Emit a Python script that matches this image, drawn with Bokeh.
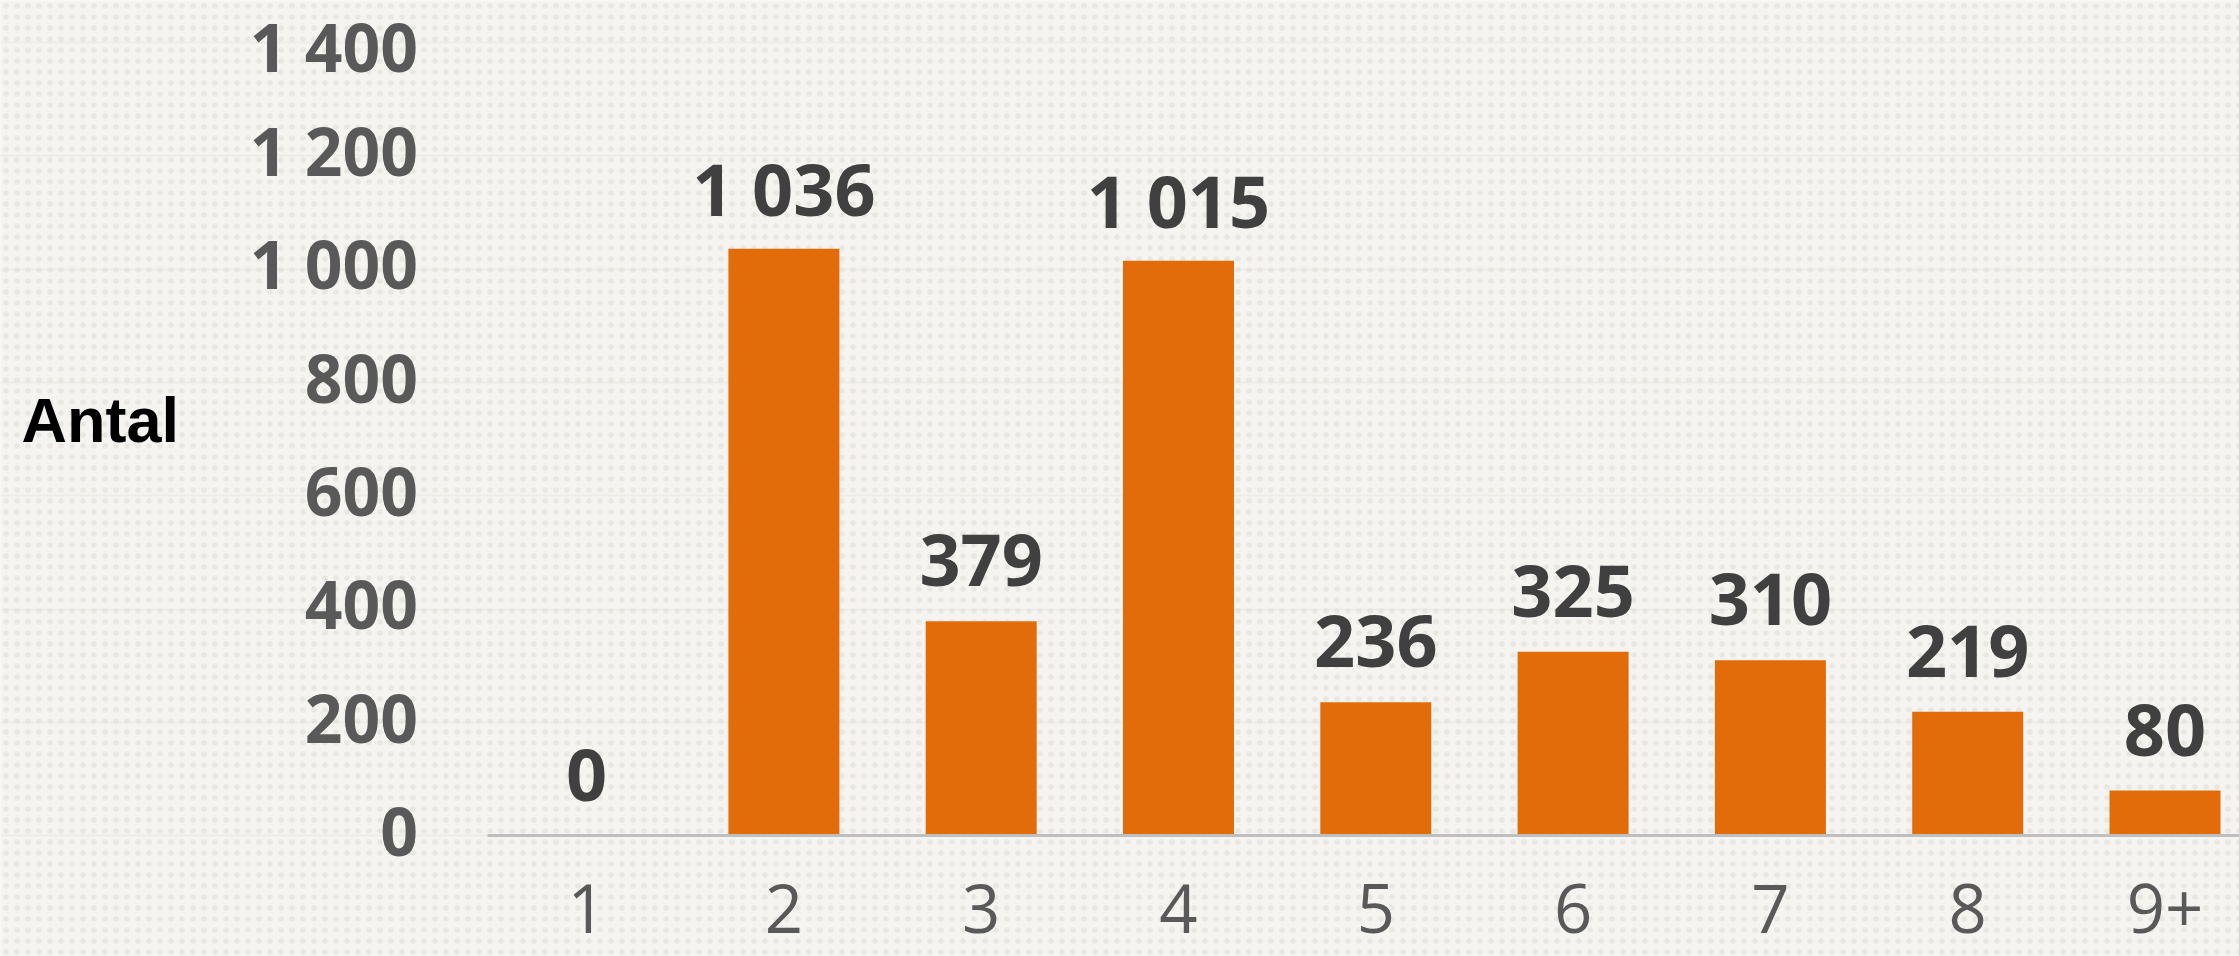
from bokeh.plotting import figure
from bokeh.models import FixedTicker, Label, BoxAnnotation, ColumnDataSource, Range1d
from bokeh.core.properties import value
from bokeh.embed import file_html
from bokeh.resources import INLINE

categories = ["1", "2", "3", "4", "5", "6", "7", "8", "9+"]
counts = [0, 1036, 379, 1015, 236, 325, 310, 219, 80]
y_ticks = [0, 200, 400, 600, 800, 1000, 1200, 1400]
y_title = "Antal"


def fmt(v):
    return f"{v:,}".replace(",", " ")


xs = list(range(1, len(categories) + 1))
src = ColumnDataSource(dict(x=xs, cat=categories, n=counts,
                            lbl=[fmt(v) for v in counts]))

BG = "#F5F4F0"
ORANGE = "#E36C0A"

Y0, Y1 = -212.8, 1474.2
p = figure(width=2239, height=956, output_backend="svg", toolbar_location=None,
           x_range=(-1.9706, 9.3776), y_range=(Y0, Y1),
           min_border_left=0, min_border_right=0,
           min_border_top=0, min_border_bottom=0)
p.title.visible = False
p.background_fill_color = BG
p.border_fill_color = BG
p.outline_line_color = None

# range used only to nudge the tick labels a few pixels up (visual centring)
p.extra_y_ranges = {"ylab": Range1d(start=Y0 - 10.5, end=Y1 - 10.5)}

# dotted paper texture
p.add_layout(BoxAnnotation(fill_alpha=0, line_color=None, hatch_pattern=".",
                           hatch_scale=11, hatch_color="#D9D8CF", hatch_alpha=0.45,
                           level="underlay"))

p.xgrid.visible = False

# x axis drawn at y = 0 inside the plot area
xa = p.xaxis[0]
xa.fixed_location = 0
xa.bounds = (0.5, 9.3776)
xa.ticker = FixedTicker(ticks=xs)
xa.major_label_overrides = {x: c for x, c in zip(xs, categories)}
xa.axis_line_color = "#BFBFBF"
xa.axis_line_width = 3
xa.major_tick_line_color = None
xa.minor_tick_line_color = None
xa.major_label_standoff = 42
xa.major_label_text_font = "Open Sans"
xa.major_label_text_font_size = "67px"
xa.major_label_text_color = "#595959"

# y axis at the left edge of the bar area
ya = p.yaxis[0]
ya.y_range_name = "ylab"
ya.fixed_location = 0.5
ya.ticker = FixedTicker(ticks=y_ticks)
ya.major_label_overrides = {t: fmt(t) for t in y_ticks}
ya.axis_line_color = None
ya.major_tick_line_color = None
ya.minor_tick_line_color = None
ya.major_label_standoff = 64
ya.major_label_text_font = "Open Sans"
ya.major_label_text_font_style = "bold"
ya.major_label_text_font_size = "66px"
ya.major_label_text_color = "#595959"

p.ygrid.ticker = FixedTicker(ticks=y_ticks)
p.ygrid.grid_line_color = "#EDECE7"
p.ygrid.grid_line_width = 2

p.vbar(x="x", top="n", width=0.5626, source=src,
       fill_color=ORANGE, line_color=None)

# value labels
p.text(x="x", y="n", text="lbl", source=src, text_font=value("Open Sans"),
       text_font_style="bold", text_font_size="72px", text_color="#404040",
       text_align="center", text_baseline="alphabetic", y_offset=-61)

p.add_layout(Label(x=-1.864, y=734, x_units="data", y_units="data", text=y_title,
                   text_font="Liberation Sans", text_font_style="bold",
                   text_font_size="63px", text_color="black",
                   text_baseline="alphabetic", text_align="left"))

open("out.html", "w").write(file_html(p, INLINE))
